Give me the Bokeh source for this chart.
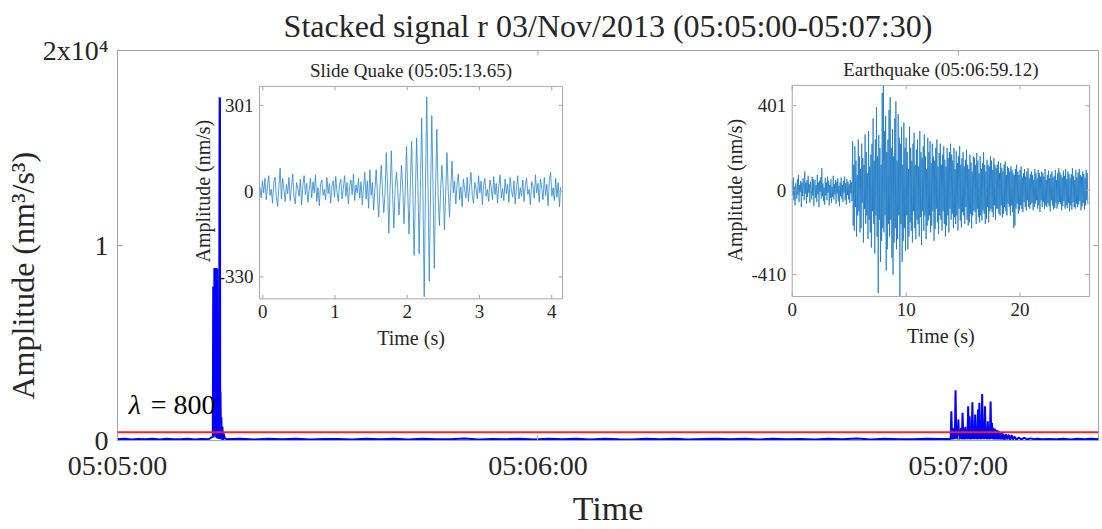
import numpy as np
from bokeh.plotting import figure
from bokeh.models import Range1d, FixedTicker, Span, Label, Title
from bokeh.core.properties import value
from bokeh.embed import file_html
from bokeh.resources import INLINE

FONT = "Liberation Serif"
TXT = "#262626"
GRAY = "#a6a6a6"

# ---------------- main stacked signal (seconds after 05:05:00, nm^3/s^3) ----------------
base_a_t = list(range(0, 14))
base_a_amp = [60, 85, 50, 80, 65, 90, 55, 85, 70, 60, 90, 50, 80, 65]

spike_t = [13.60, 13.66, 13.70, 13.74, 13.78, 13.82, 13.86, 13.90, 13.94, 13.98,
           14.02, 14.06, 14.10, 14.14, 14.18, 14.22, 14.26, 14.30, 14.34, 14.38,
           14.42, 14.46, 14.50, 14.54, 14.58, 14.62, 14.66, 14.70, 14.76, 14.82,
           14.90, 14.98, 15.06, 15.16, 15.30]
spike_amp = [200, 7900, 150, 7900, 300, 8850, 250, 8850, 300, 8800,
             200, 8700, 150, 8850, 120, 8800, 150, 6000, 100, 3500,
             90, 2500, 80, 12000, 17600, 17500, 120, 2500, 60, 1200,
             40, 700, 30, 350, 120]

base_b_t = list(np.arange(15.5, 118.0, 2.0))
base_b_amp = [70, 90, 55, 85, 60, 95, 50, 80, 75, 55,
              90, 65, 85, 50, 90, 70, 60, 100, 55, 80,
              70, 90, 50, 95, 65, 85, 55, 95, 70, 55,
              85, 65, 95, 50, 75, 90, 60, 85, 55, 95,
              70, 80, 55, 90, 65, 100, 50, 85, 70, 60,
              90, 75]

burst_t = list(np.round(np.arange(118.9, 126.45, 0.1), 2))
burst_amp = [80, 1500, 50, 600, 60, 650, 80, 2570, 100, 600,
             50, 1070, 60, 550, 80, 650, 50, 1420, 70, 600,
             60, 700, 90, 600, 60, 1750, 80, 1240, 50, 650,
             70, 1960, 80, 700, 60, 1330, 90, 600, 60, 1590,
             70, 1930, 80, 700, 60, 2390, 90, 650, 70, 1750,
             80, 600, 60, 990, 70, 650, 60, 2000, 80, 900,
             70, 650, 60, 600, 50, 550, 60, 520, 50, 480,
             60, 420, 50, 390, 60, 350]

tail_t = [126.6, 126.8, 127.0, 127.2, 127.4, 127.6, 127.8, 128.0, 128.3, 128.6,
          129.0, 129.4, 129.8, 130.3, 130.8, 131.3, 132.0, 133.0]
tail_amp = [40, 320, 50, 300, 40, 280, 50, 200, 40, 150,
            60, 140, 50, 110, 60, 90, 60, 80]

base_c_t = list(range(134, 141))
base_c_amp = [70, 90, 55, 85, 65, 90, 60]

main_t = base_a_t + spike_t + base_b_t + burst_t + tail_t + base_c_t
main_amp = base_a_amp + spike_amp + base_b_amp + burst_amp + tail_amp + base_c_amp

lam_level = 425
lam_text = "= 800"

main_xticks = [0, 60, 120]
main_xlabels = ["05:05:00", "05:06:00", "05:07:00"]
main_yticks = [0, 10000, 20000]
main_ylabels = ["0", "1", "2x10\u2074"]

# ---------------- inset 1: slide quake (normalised, 1 = 301 nm/s) ----------------
slide_noise_a = [0.05, -0.08, 0.12, -0.02, 0.15, -0.10, 0.06, 0.18, -0.05, 0.02,
                 -0.14, 0.10, 0.16, -0.06, -0.18, 0.04, 0.27, -0.09, 0.15, 0.02,
                 -0.12, 0.08, -0.03, 0.16, -0.11, 0.05, 0.20, -0.07, -0.15, 0.10,
                 0.03, -0.06, 0.14, -0.16, 0.07, 0.18, -0.04, 0.09, -0.13, 0.02,
                 0.15, -0.08, 0.11, -0.02, 0.19, -0.12, 0.04, -0.17, 0.08, 0.13,
                 -0.05, 0.02, -0.10, 0.16, -0.03, 0.09, -0.14, 0.06, 0.12, -0.07,
                 0.17, -0.01, -0.12, 0.08, 0.14, -0.09, 0.03, 0.18, -0.06, 0.10,
                 -0.15, 0.05, 0.13, -0.04, 0.20, -0.11, 0.07, -0.02, 0.15, -0.08,
                 0.11, -0.16, 0.04, 0.22, -0.09, 0.12, -0.20, 0.25, -0.05, 0.10]
slide_event = [-0.22, 0.02, 0.25, -0.04,
               -0.30, 0.05, 0.30, 0.00,
               -0.25, -0.03, 0.45, 0.06,
               -0.49, 0.02, 0.47, -0.05,
               -0.43, 0.04, 0.22, 0.03,
               -0.28, -0.02, 0.30, 0.05,
               -0.38, 0.01, 0.52, -0.03,
               -0.50, 0.06, 0.58, 0.02,
               -0.75, -0.04, 0.62, 0.05,
               -0.73, 0.03, 0.85, -0.02,
               -1.23, 0.05, 1.10, 0.04,
               -1.05, -0.03, 0.88, 0.02,
               -0.90, 0.04, 0.72, -0.05,
               -0.40, 0.02, 0.30, 0.03,
               -0.45, -0.04, 0.45, 0.01,
               -0.30, 0.03, 0.35, -0.02]
slide_noise_b = [0.12, -0.15, 0.08, 0.20, -0.10, 0.05, -0.18, 0.14, 0.02, -0.08,
                 0.16, -0.12, 0.06, 0.22, -0.05, -0.14, 0.10, 0.03, -0.09, 0.18,
                 -0.02, 0.12, -0.16, 0.07, 0.15, -0.06, 0.02, -0.12, 0.13, 0.04,
                 -0.10, 0.17, -0.04, 0.09, -0.14, 0.06, 0.19, -0.08, 0.03, -0.11,
                 0.14, -0.03, 0.08, -0.13, 0.16, 0.01, -0.07, 0.12, -0.15, 0.05,
                 0.18, -0.09, 0.04, -0.06, 0.13, -0.12, 0.07, 0.15, -0.04, 0.02,
                 -0.16, 0.11, 0.06, -0.08, 0.19, -0.02, 0.09, -0.13, 0.14, 0.03,
                 -0.10, 0.16, -0.05, 0.08, -0.17, 0.12, 0.22, -0.06, 0.04, -0.11,
                 0.15, -0.07, 0.10, -0.18, 0.05]
slide_amp = slide_noise_a + slide_event + slide_noise_b
slide_t = list(-0.04 + 0.0175 * np.arange(len(slide_amp)))
slide_xticks = [0, 1, 2, 3, 4]
slide_xlabels = ["0", "1", "2", "3", "4"]
slide_yticks = [-1, 0, 1]
slide_ylabels = ["-330", "0", "301"]

# ---------------- inset 2: earthquake (normalised, 1 = 401 nm/s), 20 samples/s ----------------
quake_amp = [
    0.10, -0.06, 0.15, -0.12, 0.04, -0.18, 0.08, 0.02, -0.10, 0.13,
    -0.05, 0.18, -0.14, 0.06, -0.02, 0.11, -0.20, 0.09, -0.07, 0.14,
    0.05, -0.12, 0.22, -0.04, 0.09, -0.16, 0.12, -0.08, 0.17, -0.03,
    0.07, -0.15, 0.10, 0.01, -0.11, 0.16, -0.06, 0.13, -0.19, 0.04,
    0.12, -0.09, 0.06, -0.14, 0.18, -0.05, 0.09, -0.20, 0.11, -0.02,
    0.15, -0.10, 0.26, -0.07, 0.08, -0.13, 0.03, -0.17, 0.14, -0.06,
    0.09, -0.12, 0.16, -0.03, 0.11, -0.18, 0.06, -0.09, 0.13, -0.15,
    0.04, -0.08, 0.17, -0.11, 0.07, -0.05, 0.12, -0.16, 0.10, -0.04,
    0.14, -0.13, 0.05, -0.19, 0.09, -0.07, 0.15, -0.10, 0.06, -0.14,
    0.11, -0.03, 0.16, -0.12, 0.08, -0.17, 0.13, -0.06, 0.10, -0.11,
    0.07, -0.15, 0.12, -0.04, 0.09, -0.13, 0.58, -0.42, 0.30, -0.48,
    0.52, -0.20, 0.35, -0.55, 0.18, -0.30, 0.60, -0.25, 0.40, -0.50,
    0.25, -0.45, 0.55, -0.15, 0.38, -0.62, 0.30, -0.22, 0.66, -0.40,
    0.45, -0.30, 0.20, -0.58, 0.70, -0.35, 0.28, -0.50, 0.42, -0.68,
    0.55, -0.25, 0.85, -0.40, 0.35, -0.75, 0.60, -0.30, 0.98, -0.55,
    0.40, -1.22, 0.65, -0.35, 0.50, -0.85, 0.30, -0.60, 1.15, -0.45,
    1.24, -0.50, 0.70, -0.30, 0.88, -0.95, 0.45, -0.70, 0.60, -0.40,
    0.95, -0.55, 1.10, -0.35, 0.50, -0.80, 0.72, -1.00, 0.40, -0.62,
    0.85, -0.45, 1.05, -0.70, 0.35, -0.58, 0.90, -0.30, 0.62, -1.26,
    0.55, -0.40, 0.75, -0.85, 0.30, -0.60, 0.80, -0.45, 0.50, -0.72,
    0.62, -0.30, 0.45, -0.70, 0.25, -0.55, 0.75, -0.38, 0.50, -0.48,
    0.35, -0.62, 0.55, -0.25, 0.68, -0.45, 0.30, -0.58, 0.48, -0.35,
    0.60, -0.40, 0.28, -0.55, 0.70, -0.32, 0.45, -0.65, 0.38, -0.25,
    0.52, -0.48, 0.66, -0.30, 0.40, -0.58, 0.25, -0.42, 0.62, -0.36,
    0.45, -0.30, 0.58, -0.50, 0.32, -0.42, 0.55, -0.25, 0.40, -0.60,
    0.35, -0.46, 0.50, -0.22, 0.60, -0.38, 0.28, -0.52, 0.44, -0.30,
    0.55, -0.35, 0.30, -0.48, 0.42, -0.25, 0.52, -0.40, 0.36, -0.55,
    0.28, -0.42, 0.50, -0.30, 0.38, -0.50, 0.45, -0.22, 0.55, -0.35,
    0.42, -0.28, 0.35, -0.45, 0.50, -0.32, 0.25, -0.40, 0.46, -0.30,
    0.32, -0.48, 0.40, -0.22, 0.52, -0.36, 0.30, -0.44, 0.38, -0.26,
    0.45, -0.30, 0.28, -0.40, 0.36, -0.20, 0.48, -0.35, 0.30, -0.42,
    0.25, -0.38, 0.42, -0.28, 0.33, -0.45, 0.22, -0.30, 0.40, -0.24,
    0.38, -0.26, 0.30, -0.40, 0.44, -0.22, 0.35, -0.32, 0.20, -0.38,
    0.40, -0.30, 0.25, -0.36, 0.32, -0.24, 0.45, -0.28, 0.30, -0.40,
    0.22, -0.34, 0.36, -0.20, 0.30, -0.38, 0.28, -0.25, 0.40, -0.22,
    0.35, -0.26, 0.24, -0.32, 0.38, -0.18, 0.30, -0.35, 0.26, -0.22,
    0.30, -0.22, 0.34, -0.28, 0.20, -0.30, 0.32, -0.18, 0.26, -0.32,
    0.22, -0.28, 0.30, -0.20, 0.34, -0.25, 0.18, -0.30, 0.28, -0.16,
    0.26, -0.20, 0.22, -0.30, 0.28, -0.18, 0.24, -0.26, 0.20, -0.45,
    0.18, -0.42, 0.25, -0.22, 0.30, -0.16, 0.22, -0.28, 0.18, -0.24,
    0.24, -0.18, 0.28, -0.22, 0.15, -0.26, 0.20, -0.14, 0.25, -0.20,
    0.16, -0.24, 0.22, -0.12, 0.26, -0.20, 0.14, -0.22, 0.19, -0.17,
    0.22, -0.15, 0.18, -0.24, 0.12, -0.20, 0.25, -0.16, 0.20, -0.12,
    0.14, -0.22, 0.24, -0.18, 0.20, -0.26, 0.16, -0.12, 0.22, -0.20,
    0.20, -0.14, 0.16, -0.22, 0.25, -0.18, 0.12, -0.20, 0.18, -0.15,
    0.23, -0.19, 0.14, -0.25, 0.19, -0.12, 0.22, -0.18, 0.15, -0.23,
    0.17, -0.21, 0.24, -0.15, 0.12, -0.22, 0.20, -0.17, 0.26, -0.14,
    0.21, -0.16, 0.18, -0.24, 0.15, -0.19, 0.23, -0.13, 0.17, -0.22,
    0.25, -0.18, 0.13, -0.21, 0.22, -0.15, 0.19, -0.25, 0.14, -0.18,
    0.19, -0.23, 0.26, -0.14, 0.17, -0.20, 0.12, -0.22, 0.24, -0.16,
    0.15, -0.20, 0.21, -0.17, 0.25, -0.13, 0.18, -0.24, 0.16, -0.19,
    0.22, -0.15, 0.19, -0.23, 0.14, -0.18, 0.24, -0.12, 0.20, -0.17]
quake_t = list(0.05 * np.arange(len(quake_amp)))
quake_xticks = [0, 10, 20]
quake_xlabels = ["0", "10", "20"]
quake_yticks = [-1, 0, 1]
quake_ylabels = ["-410", "0", "401"]

# ---------------- main figure ----------------
p = figure(width=1102, height=529, x_range=Range1d(0, 140), y_range=Range1d(0, 20000),
           output_backend="svg", toolbar_location=None,
           title="Stacked signal r 03/Nov/2013 (05:05:00-05:07:30)",
           min_border_left=117, min_border_right=4, min_border_top=50, min_border_bottom=88)
p.background_fill_color = "white"
p.border_fill_color = "white"
p.outline_line_color = GRAY
p.outline_line_width = 1
p.grid.visible = False

p.title.align = "center"
p.title.vertical_align = "top"
p.title.text_font = FONT
p.title.text_font_style = "normal"
p.title.text_font_size = "32px"
p.title.text_color = TXT
p.title.standoff = 10

for ax in (p.xaxis[0], p.yaxis[0]):
    ax.major_label_text_font = FONT
    ax.major_label_text_font_size = "28px"
    ax.major_label_text_color = TXT
    ax.axis_label_text_font = FONT
    ax.axis_label_text_font_style = "normal"
    ax.axis_label_text_color = TXT
    ax.axis_line_color = GRAY
    ax.major_tick_line_color = GRAY
    ax.major_tick_in = 5
    ax.major_tick_out = 0
    ax.minor_tick_line_color = None

p.xaxis.ticker = FixedTicker(ticks=main_xticks)
p.xaxis.major_label_overrides = {t: l for t, l in zip(main_xticks, main_xlabels)}
p.xaxis.major_label_standoff = 9
p.xaxis.axis_label = "Time"
p.xaxis.axis_label_text_font_size = "34px"
p.xaxis.axis_label_standoff = 6

p.yaxis.ticker = FixedTicker(ticks=main_yticks)
p.yaxis.major_label_overrides = {t: l for t, l in zip(main_yticks, main_ylabels)}
p.yaxis.major_label_orientation = "horizontal"
p.yaxis.major_label_standoff = 9

ytitle = Title(text="Amplitude (nm\u00b3/s\u00b3)", align="left", offset=41, standoff=-3,
               text_font=FONT, text_font_style="normal", text_font_size="32px",
               text_color=TXT)
p.add_layout(ytitle, "left")

# top / right ticks of the box
p.ray(x=main_xticks, y=[20000] * len(main_xticks), length=5, length_units="screen",
      angle=-np.pi / 2, line_color=GRAY, line_width=1)
p.ray(x=[140] * len(main_yticks), y=main_yticks, length=5, length_units="screen",
      angle=np.pi, line_color=GRAY, line_width=1)

p.line(main_t, main_amp, line_color="#0000ff", line_width=2)
p.add_layout(Span(location=lam_level, dimension="width", line_color="#ff2020", line_width=2))

p.add_layout(Label(x=1.6, y=1050, text="\u03bb", text_font=FONT, text_font_style="italic",
                   text_font_size="28px", text_color="black"))
p.add_layout(Label(x=1.6, y=1050, x_offset=22, text=lam_text, text_font=FONT,
                   text_font_size="28px", text_color="black"))


def make_inset(xs, ys, xt, yt, t, amp, xticks, xlabels, yticks, ylabels, title, color, lw):
    sub = p.subplot(x_source=Range1d(*xs), y_source=Range1d(*ys),
                    x_target=Range1d(*xt), y_target=Range1d(*yt))
    sub.quad(left=[xs[0]], right=[xs[1]], bottom=[ys[0]], top=[ys[1]],
             fill_color="white", line_color=None)
    sub.line(t, amp, line_color=color, line_width=lw)
    sub.quad(left=[xs[0]], right=[xs[1]], bottom=[ys[0]], top=[ys[1]],
             fill_color=None, line_color=GRAY, line_width=1)
    nx, ny = len(xticks), len(yticks)
    sub.ray(x=xticks, y=[ys[0]] * nx, length=4, length_units="screen", angle=np.pi / 2,
            line_color=GRAY)
    sub.ray(x=xticks, y=[ys[1]] * nx, length=4, length_units="screen", angle=-np.pi / 2,
            line_color=GRAY)
    sub.ray(x=[xs[0]] * ny, y=yticks, length=4, length_units="screen", angle=0,
            line_color=GRAY)
    sub.ray(x=[xs[1]] * ny, y=yticks, length=4, length_units="screen", angle=np.pi,
            line_color=GRAY)
    sub.text(x=xticks, y=[ys[0]] * nx, text=xlabels, y_offset=6, text_align="center",
             text_baseline="top", text_font=value(FONT), text_font_size="19px", text_color=TXT)
    sub.text(x=[xs[0]] * ny, y=yticks, text=ylabels, x_offset=-6, text_align="right",
             text_baseline="middle", text_font=value(FONT), text_font_size="19px", text_color=TXT)
    xm = 0.5 * (xs[0] + xs[1])
    sub.text(x=[xm], y=[ys[0]], text=["Time (s)"], y_offset=28, text_align="center",
             text_baseline="top", text_font=value(FONT), text_font_size="20px", text_color=TXT)
    sub.text(x=[xs[0]], y=[0], text=["Amplitude (nm/s)"], x_offset=-57, angle=np.pi / 2,
             text_align="center", text_baseline="middle", text_font=value(FONT),
             text_font_size="20px", text_color=TXT)
    sub.text(x=[xm], y=[ys[1]], text=[title], y_offset=-5, text_align="center",
             text_baseline="bottom", text_font=value(FONT), text_font_size="19px", text_color=TXT)


make_inset((-0.045, 4.15), (-1.256, 1.221), (20.27, 63.51), (7263, 18159),
           slide_t, slide_amp, slide_xticks, slide_xlabels, slide_yticks, slide_ylabels,
           "Slide Quake (05:05:13.65)", "#2a84cc", 0.8)
make_inset((0, 26.1), (-1.26, 1.24), (96.29, 138.72), (7381, 18210),
           quake_t, quake_amp, quake_xticks, quake_xlabels, quake_yticks, quake_ylabels,
           "Earthquake (05:06:59.12)", "#0a6fbf", 0.7)

open("out.html", "w").write(file_html(p, INLINE))
